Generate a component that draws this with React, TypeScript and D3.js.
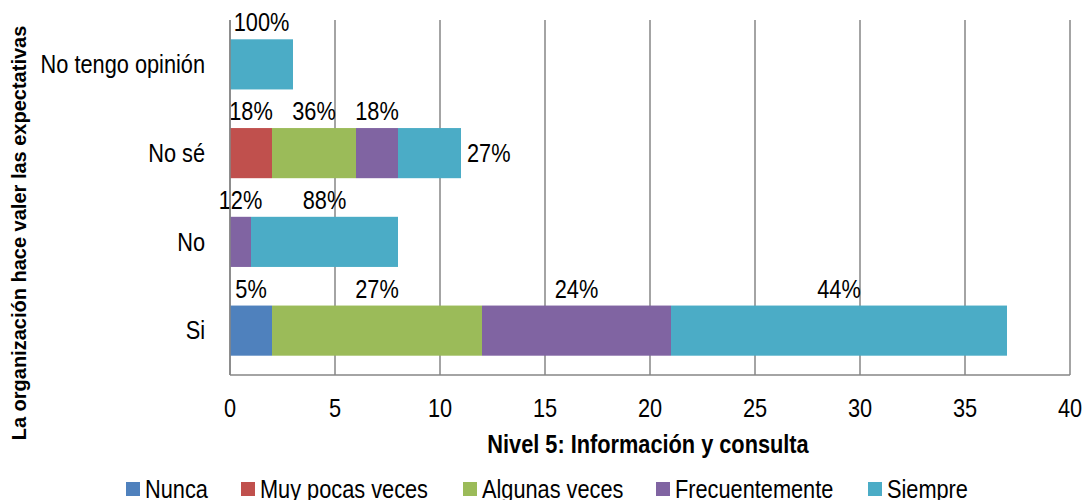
import React from "react";
import * as d3 from "d3";

const categories = ["Si", "No", "No sé", "No tengo opinión"];
const seriesNames = ["Nunca", "Muy pocas veces", "Algunas veces", "Frecuentemente", "Siempre"];
const nunca = [2, 0, 0, 0];
const muyPocasVeces = [0, 0, 2, 0];
const algunasVeces = [10, 0, 4, 0];
const frecuentemente = [9, 1, 2, 0];
const siempre = [16, 7, 3, 3];
const nuncaLabels = ["5%", "", "", ""];
const muyPocasLabels = ["", "", "18%", ""];
const algunasLabels = ["27%", "", "36%", ""];
const frecuentementeLabels = ["24%", "12%", "18%", ""];
const siempreLabels = ["44%", "88%", "27%", "100%"];
const xTicks = [0, 5, 10, 15, 20, 25, 30, 35, 40];
const colors = ["#4F81BD", "#C0504D", "#9BBB59", "#8064A2", "#4BACC6"];

const values = [nunca, muyPocasVeces, algunasVeces, frecuentemente, siempre];
const labels = [nuncaLabels, muyPocasLabels, algunasLabels, frecuentementeLabels, siempreLabels];

const FONT = "'Liberation Sans', Arial, sans-serif";
const SX = 0.87;

function NText(props: { x: number; y: number; anchor?: string; size?: number; bold?: boolean; children: any; dy?: string }) {
  const { x, y, anchor = "start", size = 25, bold = false, children, dy = "0.35em" } = props;
  return (
    <text
      transform={`translate(${x},${y}) scale(${SX},1)`}
      textAnchor={anchor}
      dy={dy}
      fontSize={size}
      fontWeight={bold ? "bold" : "normal"}
      fill="#000"
    >
      {children}
    </text>
  );
}

export default function App() {
  const W = 1085, H = 500;
  const left = 230, right = 1070, top = 20, bottom = 375;
  const x = d3.scaleLinear().domain([0, 40]).range([left, right]);
  const y = d3.scaleBand().domain([...categories].reverse()).range([top, bottom]).paddingInner(0.435).paddingOuter(0.2175);

  const rows = categories.map((c, ci) => {
    const obj: any = { cat: c };
    seriesNames.forEach((s, si) => (obj[s] = values[si][ci]));
    return obj;
  });
  const stacked = d3.stack().keys(seriesNames)(rows);

  const legendX = [126, 241, 463, 656, 868];

  return (
    <svg width={W} height={H} style={{ position: "absolute", left: 0, top: 0 }} fontFamily={FONT}>
      <rect width={W} height={H} fill="#fff" />
      {xTicks.map((t) => (
        <line key={t} x1={x(t)} x2={x(t)} y1={top} y2={bottom} stroke="#868686" strokeWidth={1.5} />
      ))}
      <line x1={left} x2={right} y1={bottom} y2={bottom} stroke="#868686" strokeWidth={1.5} />
      {stacked.map((layer, si) =>
        layer.map((d: any, ci: number) => {
          const v = d[1] - d[0];
          if (v <= 0) return null;
          return (
            <rect key={si + "-" + ci} x={x(d[0])} y={y(d.data.cat)!} width={x(d[1]) - x(d[0])} height={y.bandwidth()} fill={colors[si]} />
          );
        })
      )}
      {stacked.map((layer, si) =>
        layer.map((d: any, ci: number) => {
          const lab = labels[si][ci];
          if (!lab) return null;
          const cat = d.data.cat;
          const outside = cat === "No sé" && seriesNames[si] === "Siempre";
          if (outside) {
            return (
              <NText key={"l" + si + "-" + ci} x={x(d[1]) + 6} y={y(cat)! + y.bandwidth() / 2}>
                {lab}
              </NText>
            );
          }
          return (
            <NText key={"l" + si + "-" + ci} x={(x(d[0]) + x(d[1])) / 2} y={y(cat)! - 8} anchor="middle" dy="0">
              {lab}
            </NText>
          );
        })
      )}
      <line x1={left} x2={left} y1={top} y2={bottom} stroke="#868686" strokeWidth={1.5} />
      {categories.map((c) => (
        <NText key={c} x={205} y={y(c)! + y.bandwidth() / 2} anchor="end">
          {c}
        </NText>
      ))}
      {xTicks.map((t) => (
        <NText key={"t" + t} x={x(t)} y={408} anchor="middle">
          {t}
        </NText>
      ))}
      <NText x={648} y={444} anchor="middle" bold>
        Nivel 5: Información y consulta
      </NText>
      <text transform={`translate(19, 233) rotate(-90)`} textAnchor="middle" dy="0.35em" fontSize={20} fontWeight="bold" fill="#000">
        La organización hace valer las expectativas
      </text>
      {seriesNames.map((s, i) => (
        <g key={s}>
          <rect x={legendX[i]} y={482} width={14} height={14} fill={colors[i]} />
          <NText x={legendX[i] + 19} y={489}>{s}</NText>
        </g>
      ))}
    </svg>
  );
}
